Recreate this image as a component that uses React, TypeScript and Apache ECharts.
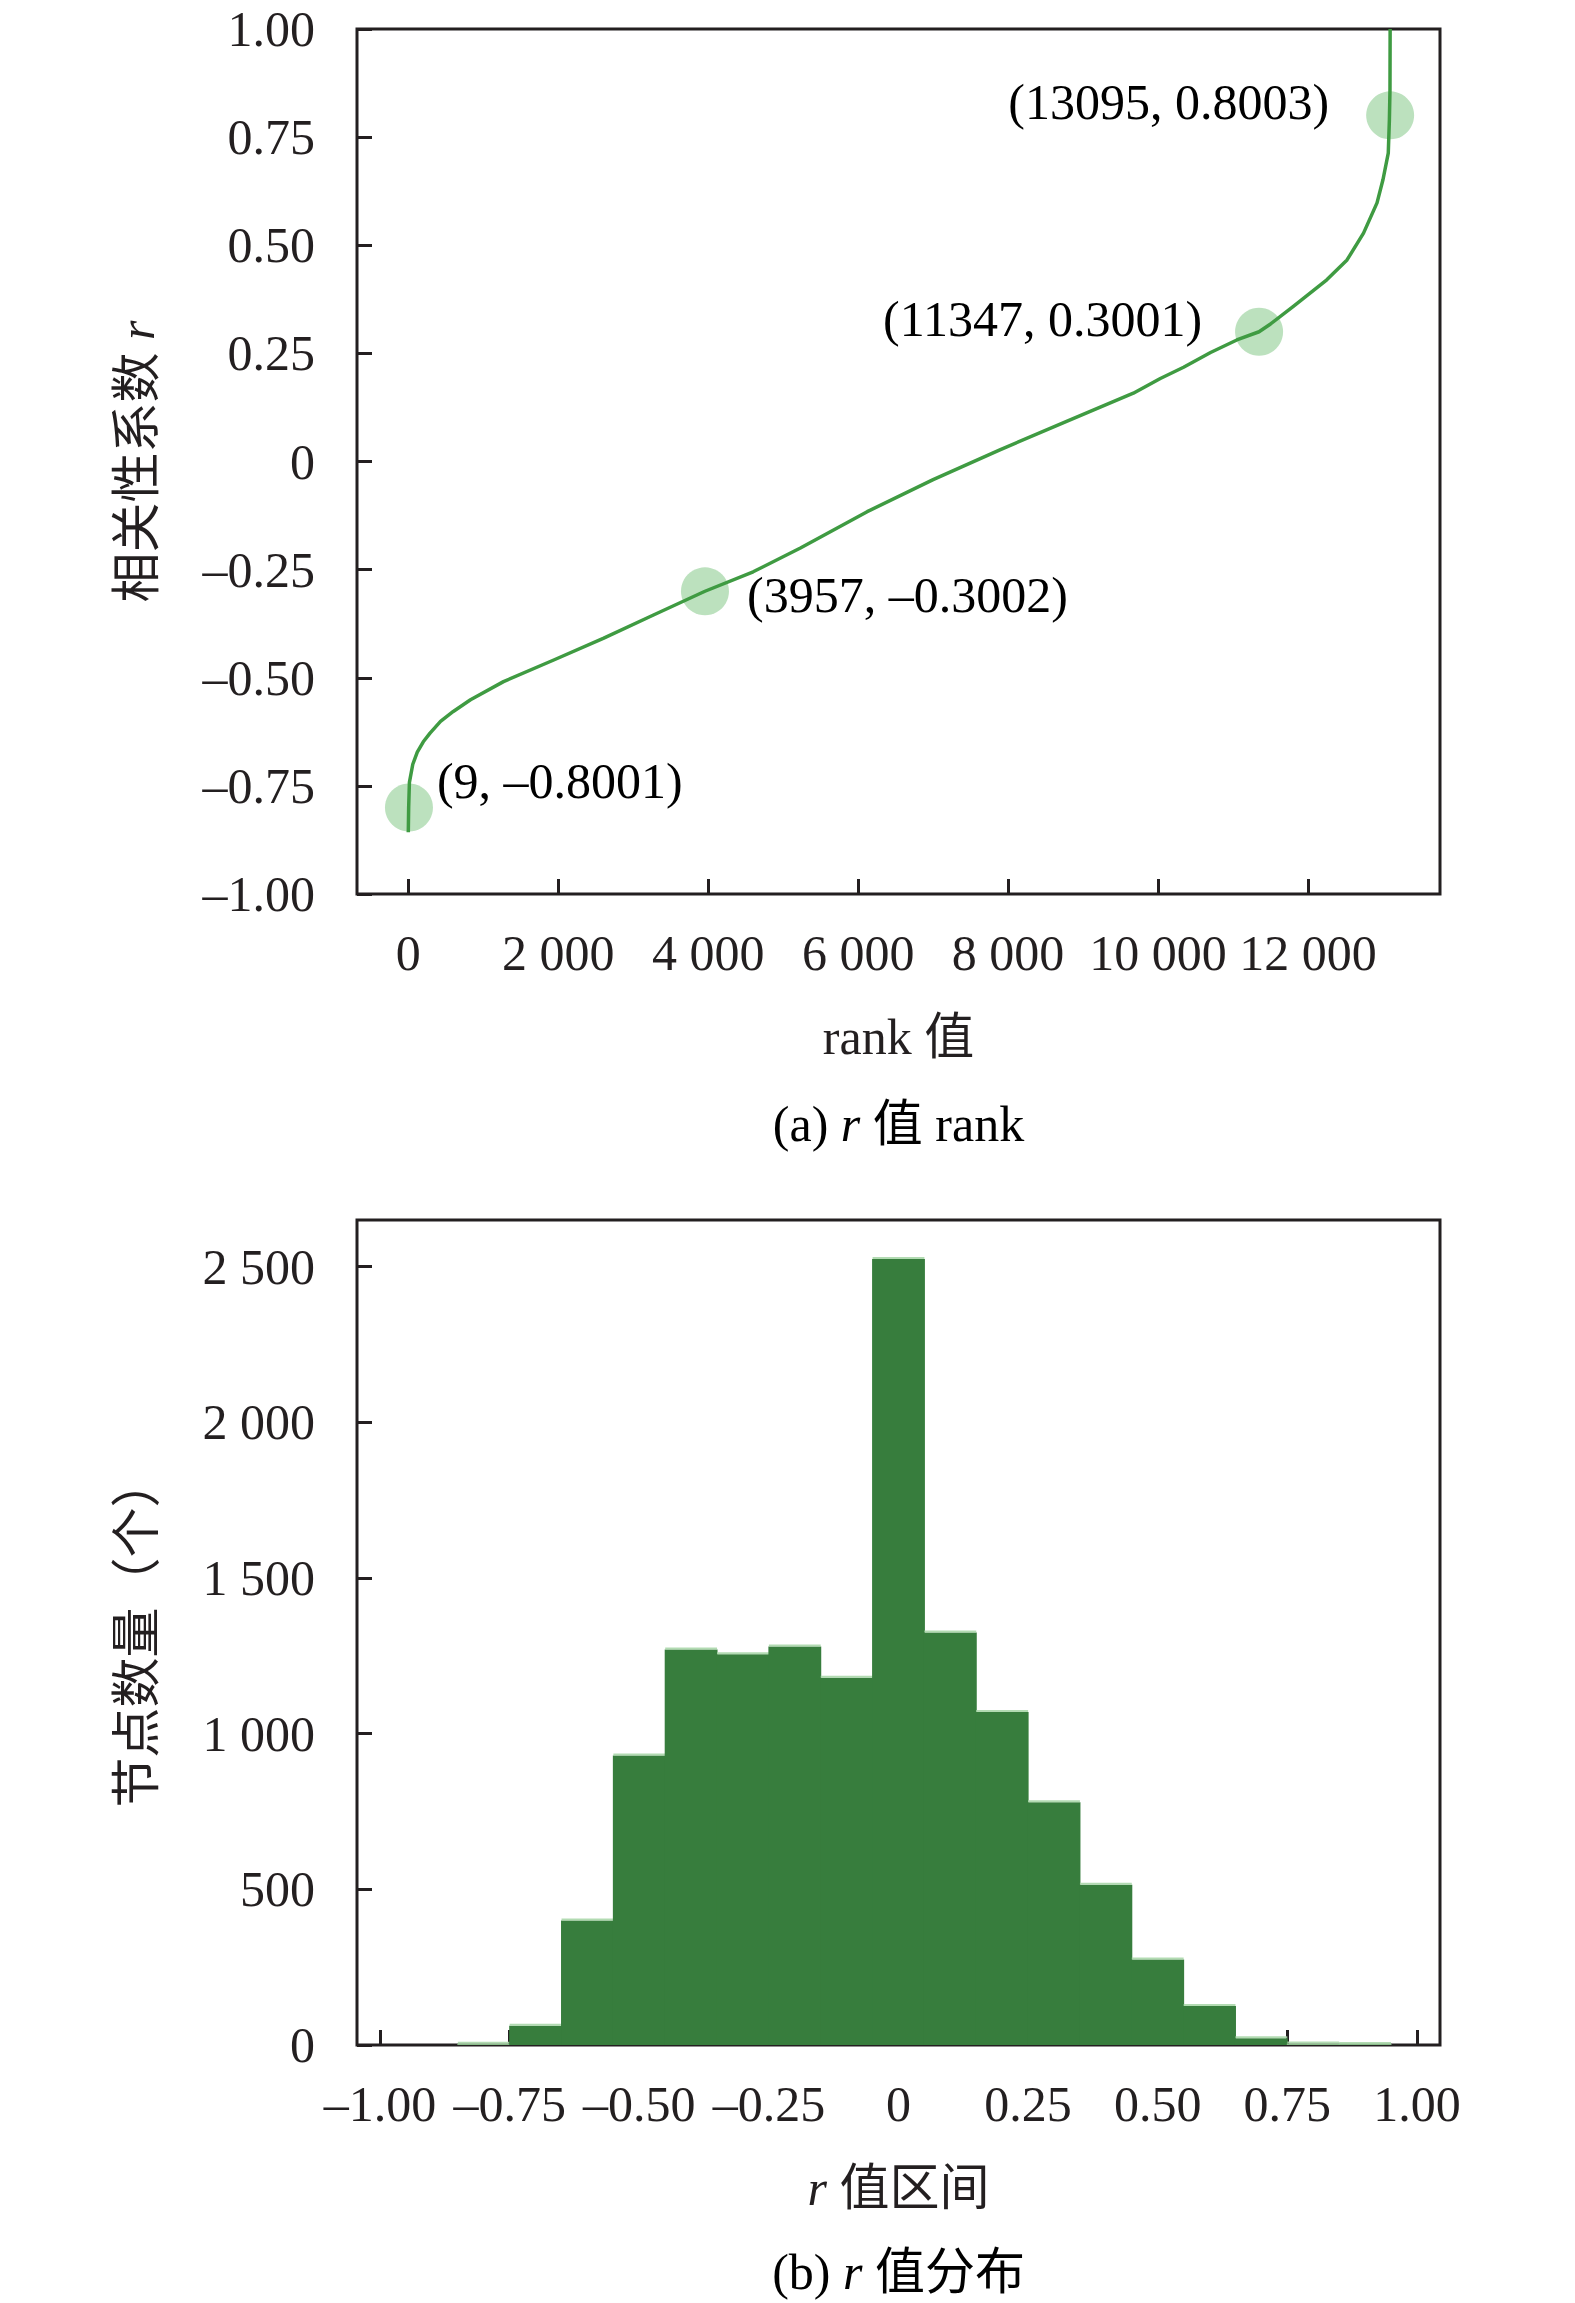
import React, { useEffect, useRef } from "react";
import * as echarts from "echarts";

// ---------- data: (a) sorted correlation coefficients ----------
const rankValues = [
  0, 5, 15, 60, 120, 200, 290, 430, 600, 830, 1270, 1940, 2600, 3270, 3957,
  4600, 5230, 6120, 7000, 7890, 8780, 9670, 10030, 10340, 10700, 11050, 11347,
  11500, 11800, 12250, 12520, 12740, 12920, 13000, 13070, 13085, 13093, 13095,
];
const rValues = [
  -0.857, -0.8, -0.742, -0.7, -0.672, -0.648, -0.628, -0.601, -0.578, -0.551,
  -0.509, -0.459, -0.409, -0.355, -0.3, -0.255, -0.2, -0.116, -0.042, 0.027,
  0.093, 0.158, 0.192, 0.218, 0.252, 0.281, 0.3, 0.318, 0.358, 0.42, 0.466,
  0.528, 0.598, 0.652, 0.713, 0.79, 0.86, 1.0,
];
const markerRanks = [9, 3957, 11347, 13095];
const markerR = [-0.8001, -0.3002, 0.3001, 0.8003];
const rankTicks = [0, 2000, 4000, 6000, 8000, 10000, 12000];

// ---------- data: (b) histogram of r ----------
const binLower = [
  -0.85, -0.75, -0.65, -0.55, -0.45, -0.35, -0.25, -0.15, -0.05, 0.05, 0.15,
  0.25, 0.35, 0.45, 0.55, 0.65, 0.75, 0.85,
];
const binUpper = [
  -0.75, -0.65, -0.55, -0.45, -0.35, -0.25, -0.15, -0.05, 0.05, 0.15, 0.25,
  0.35, 0.45, 0.55, 0.65, 0.75, 0.85, 0.95,
];
const binCounts = [
  4, 62, 400, 930, 1270, 1255, 1280, 1180, 2525, 1325, 1070, 780, 515, 275,
  125, 22, 5, 3,
];
const intervalTicks = [-1, -0.75, -0.5, -0.25, 0, 0.25, 0.5, 0.75, 1];
const countTicks = [0, 500, 1000, 1500, 2000, 2500];

const FONT = "'Liberation Serif', 'Times New Roman', 'Noto Sans CJK SC', serif";
const INK = "#231f20";
const FS = 50;

const fmtDec = (v: number) =>
  Math.abs(v) < 1e-9 ? "0" : (v < 0 ? "\u2013" : "") + Math.abs(v).toFixed(2);
const fmt4 = (v: number) => (v < 0 ? "\u2013" : "") + Math.abs(v).toFixed(4);
const fmtThousands = (v: number) => {
  const n = Math.round(v);
  if (n < 1000) return String(n);
  return `${Math.floor(n / 1000)} ${String(n % 1000).padStart(3, "0")}`;
};

const rich = {
  t: { fontFamily: FONT, fontSize: FS, color: INK },
  i: { fontFamily: FONT, fontSize: FS, color: INK, fontStyle: "italic" },
};

export default function App() {
  const ref = useRef<HTMLDivElement>(null);

  useEffect(() => {
    document.body.style.margin = "0";
    if (!ref.current) return;
    const chart = echarts.init(ref.current, null, { renderer: "svg" });

    const labelLayouts = [
      { position: [52, -3], align: "left" },
      { position: [66, 28], align: "left" },
      { position: [-33, 11], align: "right" },
      { position: [-37, 11], align: "right" },
    ];

    const axisLabelBase = {
      fontFamily: FONT,
      fontSize: FS,
      color: INK,
    };
    const tickStyle = { show: true, inside: true, length: 15, lineStyle: { color: INK, width: 3 } };
    const hiddenLine = { show: false, onZero: false };

    const plotCenterX = 357 + 1083 / 2;

    const option: any = {
      animation: false,
      backgroundColor: "#ffffff",
      grid: [
        {
          left: 357, top: 29, width: 1083, height: 865,
          show: true, borderColor: INK, borderWidth: 3, backgroundColor: "transparent",
          containLabel: false, outerBoundsMode: "none",
        },
        {
          left: 357, top: 1220, width: 1083, height: 825,
          show: true, borderColor: INK, borderWidth: 3, backgroundColor: "transparent",
          containLabel: false, outerBoundsMode: "none",
        },
      ],
      xAxis: [
        {
          type: "value", gridIndex: 0, min: -684, max: 13760,
          axisLine: hiddenLine,
          axisTick: { ...tickStyle, customValues: rankTicks },
          axisLabel: {
            ...axisLabelBase, margin: 34, customValues: rankTicks,
            formatter: (v: number) => fmtThousands(v),
          },
          splitLine: { show: false },
          name: "{t|rank 值}",
          nameLocation: "middle",
          nameGap: 118,
          nameTextStyle: { rich },
        },
        {
          type: "value", gridIndex: 1, min: -1.0445, max: 1.0445,
          axisLine: hiddenLine,
          axisTick: { ...tickStyle, customValues: intervalTicks },
          axisLabel: {
            ...axisLabelBase, margin: 34, customValues: intervalTicks,
            formatter: (v: number) => fmtDec(v),
          },
          splitLine: { show: false },
          name: "{i|r}{t| 值区间}",
          nameLocation: "middle",
          nameGap: 118,
          nameTextStyle: { rich },
        },
      ],
      yAxis: [
        {
          type: "value", gridIndex: 0, min: -1, max: 1, interval: 0.25,
          axisLine: hiddenLine,
          axisTick: tickStyle,
          axisLabel: { ...axisLabelBase, margin: 42, formatter: (v: number) => fmtDec(v) },
          splitLine: { show: false },
          name: "{t|相关性系数 }{i|r}",
          nameLocation: "middle",
          nameGap: 195,
          nameTextStyle: { rich },
        },
        {
          type: "value", gridIndex: 1, min: 0, max: 2650,
          axisLine: hiddenLine,
          axisTick: { ...tickStyle, customValues: countTicks },
          axisLabel: {
            ...axisLabelBase, margin: 42, customValues: countTicks,
            formatter: (v: number) => fmtThousands(v),
          },
          splitLine: { show: false },
          name: "{t|节点数量（个）}",
          nameLocation: "middle",
          nameGap: 195,
          nameTextStyle: { rich },
        },
      ],
      graphic: [
        {
          type: "text", x: plotCenterX, y: 1124,
          style: {
            text: "{t|(a) }{i|r}{t| 值 rank}",
            rich,
            align: "center",
            verticalAlign: "middle",
          },
        },
        {
          type: "text", x: plotCenterX, y: 2272,
          style: {
            text: "{t|(b) }{i|r}{t| 值分布}",
            rich,
            align: "center",
            verticalAlign: "middle",
          },
        },
      ],
      series: [
        {
          type: "scatter",
          xAxisIndex: 0, yAxisIndex: 0,
          z: 2,
          symbol: "circle",
          symbolSize: 48,
          itemStyle: { color: "rgba(102,187,106,0.55)" },
          emphasis: { disabled: true },
          data: markerRanks.map((x, i) => ({
            value: [x, markerR[i]],
            label: {
              show: true,
              position: labelLayouts[i].position,
              align: labelLayouts[i].align,
              verticalAlign: "middle",
              fontFamily: FONT,
              fontSize: FS,
              color: "#000000",
              opacity: 1,
              textBorderWidth: 0,
              formatter: () => `(${x}, ${fmt4(markerR[i])})`,
            },
          })),
        },
        {
          type: "line",
          xAxisIndex: 0, yAxisIndex: 0,
          z: 3,
          showSymbol: false,
          symbol: "none",
          smooth: false,
          clip: true,
          lineStyle: { color: "#3f9b42", width: 3.5, join: "round" },
          data: rankValues.map((x, i) => [x, rValues[i]]),
        },
        {
          type: "custom",
          xAxisIndex: 1, yAxisIndex: 1,
          data: binLower.map((lo, i) => [lo, binUpper[i], binCounts[i]]),
          encode: { x: [0, 1], y: 2 },
          renderItem: (params: any, api: any) => {
            const lo = api.value(0);
            const hi = api.value(1);
            const c = api.value(2);
            const p0 = api.coord([lo, 0]);
            const p1 = api.coord([hi, c]);
            const h = p0[1] - p1[1];
            const w = p1[0] - p0[0];
            return {
              type: "group",
              children: [
                {
                  type: "rect",
                  shape: { x: p0[0] - 0.5, y: p1[1], width: w + 1, height: h },
                  style: { fill: h < 4 ? "rgba(150,205,150,0.9)" : "#377d3d" },
                },
                {
                  type: "line",
                  shape: { x1: p0[0], y1: p1[1] - 1, x2: p1[0], y2: p1[1] - 1 },
                  style: { stroke: "rgba(170,215,170,0.9)", lineWidth: 2 },
                },
              ],
            };
          },
        },
      ],
    };

    chart.setOption(option);
    return () => chart.dispose();
  }, []);

  return <div ref={ref} style={{ width: 1575, height: 2303 }} />;
}
